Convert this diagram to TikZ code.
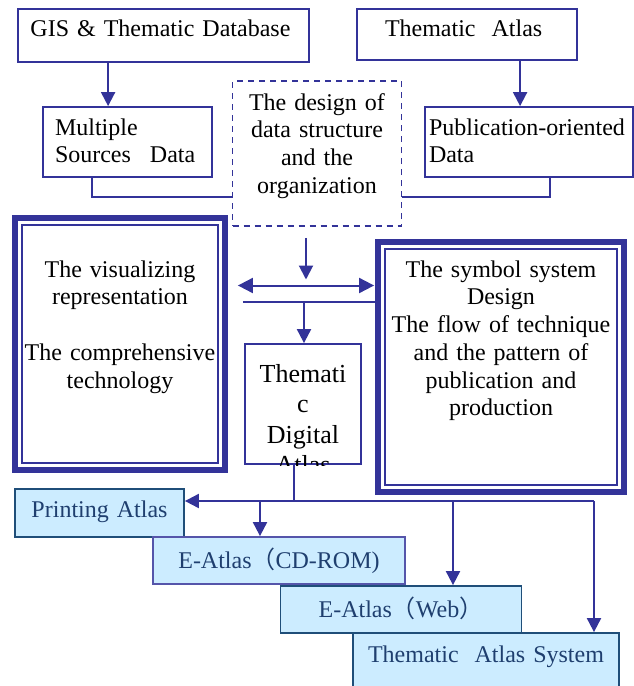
\documentclass[tikz,border=0pt]{standalone}
\usepackage{fontspec}
\setmainfont{Liberation Serif}
\newfontfamily\cjk{Noto Sans CJK SC}
\usepackage{tikz}
\usetikzlibrary{arrows.meta}
\definecolor{ink}{HTML}{333399}
\definecolor{navy}{HTML}{1F4E79}
\definecolor{cdedge}{HTML}{5555AA}
\definecolor{paleblue}{HTML}{CCECFF}
\definecolor{navytext}{HTML}{1F3F6F}

\begin{document}
\begin{tikzpicture}[x=1pt,y=-1pt,every node/.style={font=\fontsize{24}{27.75}\selectfont,inner sep=0pt},
  conn/.style={draw=ink,line width=2pt},
  arr/.style={conn,-{Triangle[length=14pt,width=14pt]}},
  arrs/.style={conn,{Triangle[length=15pt,width=15pt]}-{Triangle[length=15pt,width=15pt]}},
  plainbox/.style={draw=ink,line width=1.8pt,fill=white},
  framebox/.style={draw=ink,line width=1.8pt,align=center},
  frame/.style={draw=ink,line width=6.5pt},
  outbox/.style={draw=navy,fill=paleblue,text=navytext,line width=1.8pt,align=center}]
\useasboundingbox (0,0) rectangle (634,686);
\clip (0,0) rectangle (634,686);
\node[plainbox,text width=266pt,inner xsep=12.5pt,align=left,text height=27pt,text depth=26pt] (gis) at (163.5,35.5) {GIS \& Thematic Database};
\node[plainbox,text width=164pt,inner xsep=28pt,align=left,text height=27pt,text depth=24pt] (thatlas) at (467,34.5) {Thematic\ \ Atlas};
\node[plainbox,text width=145pt,inner xsep=12pt,align=left,text height=28pt,text depth=42pt] (multi) at (127.5,142) {Multiple\\Sources\hspace{19pt}Data};
\node[plainbox,text width=200pt,inner xsep=4pt,align=left,text height=28pt,text depth=42pt] (pub) at (529,142) {Publication-oriented\\Data};
\node[plainbox,dash pattern=on 6pt off 5pt,text width=169pt,align=center,text height=29pt,text depth=116pt] (design) at (317,153.5) {The design of\\data structure\\and the\\organization};
\node[framebox,text width=196pt,text height=52pt,text depth=186pt] (vis) at (120,344) {The visualizing\\representation\\[27.75pt]The comprehensive\\technology};
\node[framebox,text width=232pt,text height=28pt,text depth=208pt] (sym) at (501,367) {The symbol system\\Design\\The flow of technique\\and the pattern of\\publication and\\production};
\draw[frame] ([xshift=-6.3pt,yshift=6.3pt]vis.north west) rectangle ([xshift=6.3pt,yshift=-6.3pt]vis.south east);
\draw[frame] ([xshift=-6.3pt,yshift=6.3pt]sym.north west) rectangle ([xshift=6.3pt,yshift=-6.3pt]sym.south east);
\begin{scope}
\clip (240,338) rectangle (366,465);
\node[plainbox,text width=116pt,align=center,text height=38pt,text depth=82pt,font=\fontsize{26}{30.5}\selectfont] (digital) at (303,404) {Themati\\c\\Digital\\Atlas};
\end{scope}
\node[outbox,text width=169pt,text height=28pt,text depth=20pt] (print) at (99.5,513) {Printing Atlas};
\node[outbox,draw=cdedge,text width=252pt,text height=31pt,text depth=16pt] (cdrom) at (279,560.5) {E-Atlas{\cjk （}CD-ROM)};
\node[outbox,text width=241pt,text height=31pt,text depth=16pt] (web) at (401,609.5) {E-Atlas{\cjk （}Web{\cjk ）}};
\node[outbox,text width=266pt,text height=29pt,text depth=31pt] (system) at (486,663) {Thematic\ \ Atlas System};

\coordinate (hub) at (306,285.5);
\coordinate (split) at (304,302);
\coordinate (drop) at (293.5,501);
\coordinate (cdtap) at (260,501);
\coordinate (webtap) at (453,501);
\coordinate (bus) at (594,501);
\draw[arr] ([xshift=91pt]gis.south west) -- ([xshift=91pt]gis.south west |- multi.north);
\draw[arr] ([xshift=164pt]thatlas.south west) -- ([xshift=164pt]thatlas.south west |- pub.north);
\draw[conn] ([xshift=50pt]multi.south west) |- ([yshift=-43pt]design.west);
\draw[conn] ([xshift=126pt]pub.south west) |- ([yshift=-43pt]design.east);
\draw[arr,shorten <=11pt,shorten >=6pt] (hub |- design.south) -- (hub);
\draw[arrs,shorten <=19pt,shorten >=10pt] (hub -| vis.east) -- (hub -| sym.west);
\draw[conn,shorten <=24pt,shorten >=3pt] (split -| vis.east) -- (split -| sym.west);
\draw[arr] (split) -- (split |- digital.north);
\draw[conn] (drop |- digital.south) -- (drop);
\draw[arr] (bus) -- (bus -| print.east);
\draw[arr] (cdtap) -- (cdtap |- cdrom.north);
\draw[arr] (webtap) -- (webtap |- web.north);
\draw[arr] (bus) -- (bus |- system.north);
\end{tikzpicture}
\end{document}
